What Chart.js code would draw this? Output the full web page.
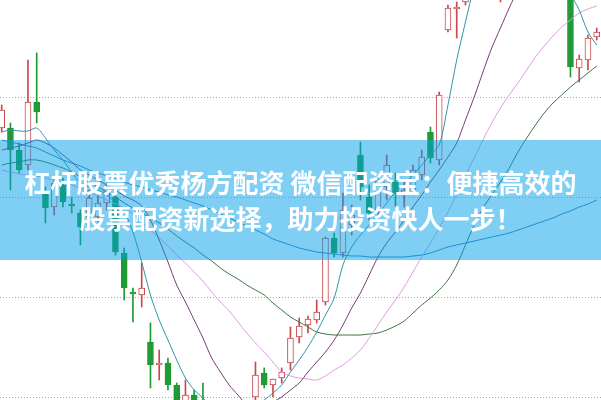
<!DOCTYPE html>
<html>
<head>
<meta charset="utf-8">
<script src="https://cdn.jsdelivr.net/npm/chart.js"></script>
<style>
  body { margin: 0; background: #fff; }
  #wrap { position: relative; width: 601px; height: 400px; overflow: hidden; }
  #banner {
    position: absolute; left: 0; top: 140px; width: 601px; height: 120px;
    box-sizing: border-box; padding-top: 24px;
    background: rgba(0, 160, 233, 0.5);
    color: #fff; font-family: "Noto Sans CJK SC", sans-serif; font-weight: bold;
    font-size: 26px; line-height: 36px; text-align: center; white-space: nowrap;
  }
</style>
</head>
<body>
<div id="wrap">
  <canvas id="chart-1" width="601" height="400"></canvas>
  <div id="banner">杠杆股票优秀杨方配资 微信配资宝：便捷高效的<br>股票配资新选择，助力投资快人一步！</div>
</div>
<script>
// daily candles (index = trading day)
const opens = [12.69,12.69,12.47,12.32,12.95,12.04,11.90,12.12,11.93,11.84,11.80,11.80,11.94,12.00,11.44,11.05,11.02,10.55,10.32,10.34,10.12,9.95,10.02,9.95,9.77,9.57,9.70,9.58,9.68,10.00,10.24,10.12,10.19,10.34,10.60,10.72,10.77,10.95,11.59,11.44,11.72,12.42,12.00,11.87,12.10,12.15,12.02,12.07,12.22,12.65,12.37,13.67,13.88,13.95,14.30,14.60,14.50,14.15,14.90,15.30,15.10,15.40,15.20,14.90,14.60,14.55,13.29,13.37,13.60];
const highs = [12.92,12.74,12.54,13.37,13.44,12.10,12.19,12.19,12.00,11.87,12.07,12.04,12.14,12.07,11.49,11.09,11.34,10.74,10.47,10.39,10.14,10.17,10.07,10.14,9.80,9.76,9.74,9.78,9.90,10.35,10.29,10.18,10.29,10.70,10.79,10.81,10.97,11.60,11.64,12.04,11.92,12.55,12.12,12.22,12.42,12.24,12.17,12.32,12.47,12.70,13.05,13.92,13.95,14.35,14.70,14.90,15.05,15.00,15.40,15.60,15.50,15.70,15.35,15.10,14.80,14.60,13.42,13.62,13.69];
const lows = [12.65,12.07,12.24,12.27,12.74,11.74,11.82,11.90,11.84,11.52,11.72,11.75,11.87,11.42,10.97,10.75,10.90,10.09,10.17,10.07,9.77,9.89,9.82,9.65,9.50,9.52,9.45,9.52,9.62,9.93,10.09,10.00,10.14,10.27,10.54,10.64,10.74,10.92,11.40,11.40,11.62,11.97,11.77,11.82,11.97,11.90,11.90,12.02,12.17,12.34,12.32,13.65,13.59,13.92,14.20,14.40,14.45,13.95,14.80,15.00,14.95,15.10,14.80,14.50,14.30,13.20,13.15,13.27,13.57];
const closes = [12.87,12.47,12.27,12.95,12.85,11.89,12.14,11.95,11.91,11.70,11.99,11.94,12.09,11.45,11.09,11.03,11.09,10.32,10.34,10.12,9.87,10.02,9.87,9.72,9.57,9.72,9.55,9.70,9.85,10.22,10.12,10.18,10.25,10.59,10.71,10.78,10.85,11.59,11.44,11.87,11.82,12.10,11.84,12.17,12.32,12.04,12.07,12.27,12.40,12.39,13.02,13.89,13.90,14.30,14.62,14.50,14.95,14.90,15.30,15.10,15.40,15.20,14.90,14.60,14.55,13.30,13.38,13.59,13.65];

// moving average lines
const ma5 = [12.65,12.67,12.66,12.66,12.69,12.59,12.47,12.37,12.25,12.14,12.10,12.07,12.02,11.94,11.85,11.65,11.35,11.02,10.77,10.57,10.37,10.19,10.07,9.99,9.89,9.82,9.79,9.82,9.87,9.92,9.97,10.04,10.12,10.25,10.37,10.50,10.65,10.82,10.99,11.32,11.50,11.62,11.72,11.82,11.94,12.05,12.13,12.22,12.32,12.42,12.52,12.92,13.37,13.75,14.12,14.47,14.77,14.97,15.07,15.17,15.22,15.27,15.17,14.97,14.57,14.05,13.87,13.65,13.52];
const ma10 = [12.47,12.49,12.51,12.54,12.57,12.54,12.49,12.42,12.35,12.27,12.22,12.17,12.12,12.07,12.01,11.97,11.91,11.77,11.57,11.35,11.12,10.95,10.77,10.59,10.39,10.25,10.12,10.02,9.92,9.87,9.89,9.95,10.00,10.07,10.14,10.25,10.35,10.45,10.57,10.72,10.89,11.04,11.22,11.40,11.54,11.65,11.77,11.90,12.02,12.15,12.27,12.40,12.54,12.77,13.00,13.25,13.49,13.69,13.89,14.07,14.22,14.32,14.37,14.39,14.39,14.37,14.34,14.30,14.27];
const ma20 = [12.27,12.25,12.23,12.22,12.21,12.19,12.17,12.15,12.12,12.09,12.05,12.01,11.97,11.93,11.89,11.83,11.75,11.67,11.59,11.51,11.42,11.34,11.25,11.16,11.05,10.95,10.86,10.75,10.64,10.54,10.45,10.35,10.25,10.21,10.19,10.18,10.17,10.21,10.27,10.32,10.39,10.47,10.59,10.72,10.85,10.97,11.10,11.25,11.40,11.54,11.69,11.85,12.03,12.22,12.39,12.57,12.74,12.89,13.02,13.14,13.27,13.40,13.51,13.61,13.70,13.77,13.84,13.88,13.91];
const ma30 = [12.32,12.34,12.35,12.37,12.37,12.35,12.32,12.29,12.25,12.20,12.15,12.10,12.05,12.00,11.94,11.89,11.84,11.79,11.74,11.68,11.61,11.55,11.49,11.42,11.36,11.29,11.23,11.18,11.12,11.07,11.02,10.94,10.87,10.80,10.75,10.70,10.65,10.63,10.62,10.62,10.62,10.62,10.63,10.64,10.67,10.71,10.76,10.84,10.92,10.99,11.07,11.17,11.32,11.52,11.72,11.89,12.02,12.15,12.29,12.45,12.59,12.72,12.84,12.94,13.02,13.10,13.17,13.24,13.31];
const ma60 = [12.57,12.55,12.53,12.51,12.49,12.45,12.41,12.37,12.34,12.31,12.27,12.24,12.21,12.18,12.15,12.12,12.10,12.07,12.05,12.02,12.00,11.97,11.94,11.91,11.87,11.83,11.79,11.75,11.71,11.67,11.63,11.58,11.55,11.52,11.49,11.47,11.45,11.44,11.43,11.42,11.41,11.41,11.40,11.40,11.40,11.40,11.40,11.41,11.42,11.44,11.47,11.50,11.52,11.54,11.56,11.58,11.60,11.62,11.64,11.67,11.70,11.73,11.76,11.79,11.83,11.86,11.90,11.93,11.97];

const gridPrices = [10, 11, 12, 13];

const RED = "#c9484c";
const GREEN = "#1f9a34";
const days = opens.map((_, i) => i);
const up = days.map(i => closes[i] >= opens[i]);

function maLine(values, color) {
  return {
    type: "line",
    data: days.map(i => ({ x: i, y: values[i] })),
    borderColor: color,
    borderWidth: 1,
    pointRadius: 0,
    tension: 0.3,
  };
}

const ctx1 = document.getElementById("chart-1").getContext("2d");
const myChart = new Chart(ctx1, {
  type: "bar",
  data: {
    datasets: [
      maLine(ma5, "#2f97a6"),
      maLine(ma10, "#7a3a78"),
      maLine(ma20, "#e29ae6"),
      maLine(ma30, "#3c7446"),
      maLine(ma60, "#2f7fb8"),
      // bodies
      {
        data: days.map(i => ({ x: i, y: [opens[i], closes[i]] })),
        backgroundColor: up.map(u => (u ? "#ffffff" : GREEN)),
        borderColor: up.map(u => (u ? RED : GREEN)),
        borderWidth: 1,
        borderSkipped: false,
        barThickness: 6,
        grouped: false,
      },
      // wicks
      {
        data: days.map(i => ({ x: i, y: [lows[i], highs[i]] })),
        backgroundColor: up.map(u => (u ? RED : GREEN)),
        barThickness: 1,
        grouped: false,
      },
    ],
  },
  options: {
    responsive: false,
    animation: false,
    layout: { padding: 0 },
    plugins: { legend: { display: false }, tooltip: { enabled: false } },
    scales: {
      x: { type: "linear", min: -0.194, max: 68.49, offset: false, display: false },
      y: {
        min: 9.97,
        max: 13.97,
        afterBuildTicks: s => { s.ticks = gridPrices.map(v => ({ value: v })); },
        ticks: { display: false },
        border: { display: false, dash: [1, 2] },
        grid: { color: "#a8a8a8", drawTicks: false },
      },
    },
  },
});
</script>
</body>
</html>
